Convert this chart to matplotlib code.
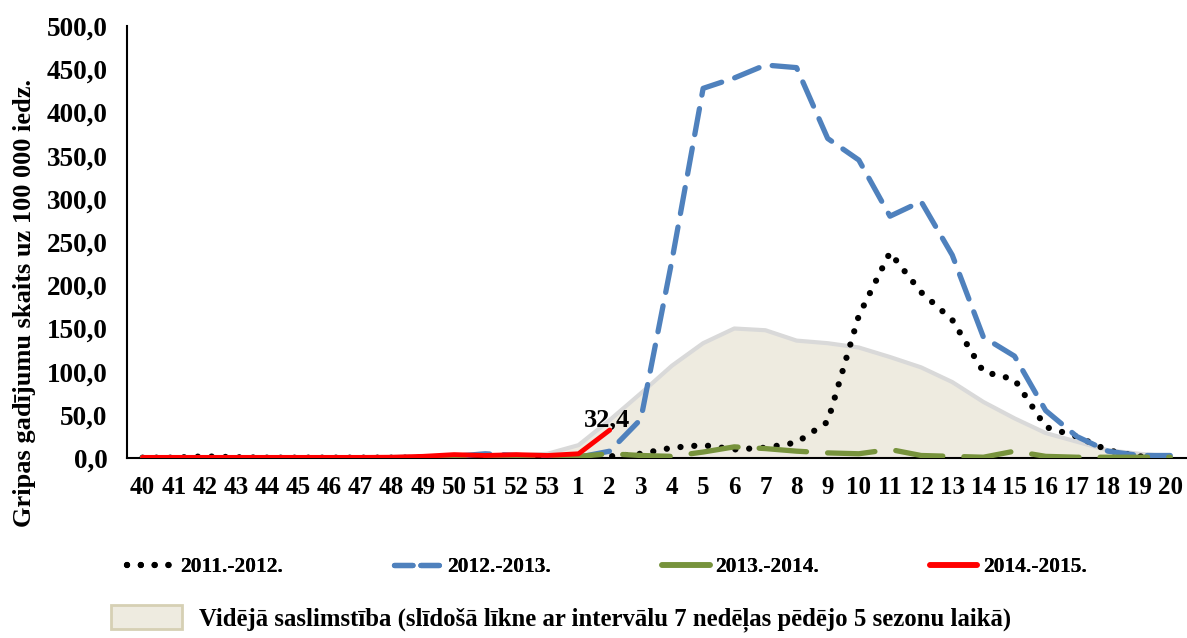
import numpy as np
import matplotlib.pyplot as plt
from matplotlib.patches import Patch
from matplotlib.lines import Line2D

plt.rcParams['font.family'] = ['Liberation Serif', 'DejaVu Serif']
plt.rcParams['font.weight'] = 'bold'

# weeks of the season
weeks = [str(w) for w in range(40, 54)] + [str(w) for w in range(1, 21)]

# 2011.-2012.
s2011 = [0.5, 0.5, 2, 1, 0.5, 0.5, 0.5, 0.5, 0.5, 0.5, 0.5, 0.5, 0.5, 0.5,
         0.5, 2, 5, 12, 15, 10, 12, 18, 42, 165, 238, 192, 160, 100, 91, 36, 25, 9, 2, 0.5]
# 2012.-2013.
s2012 = [0.5, 0.5, 0.5, 0.5, 0.5, 0.5, 0.5, 0.5, 0.5, 1, 2, 5, 3, 2,
         1, 8, 45, 229, 428, 440, 455, 452, 370, 345, 280, 297, 235, 140, 118, 55, 25, 8, 3, 3]
# 2013.-2014.
s2013 = [0.5, 0.5, 0.5, 0.5, 0.5, 0.5, 0.5, 0.5, 0.5, 1, 2, 2, 2, 2,
         2, 5, 3, 2, 7, 13, 11, 8, 6, 5, 10, 3, 2, 1, 8, 2, 1, 1, 1, 1]
# 2014.-2015. (only up to week 2)
s2014 = [0.8, 0.8, 0.8, 0.8, 0.8, 0.8, 0.8, 0.8, 1, 2, 4, 3, 4, 3, 5, 32.4]
# average (moving curve)
avg = [1, 1, 1, 1, 1, 1, 1, 1, 1, 1.5, 2, 2, 3, 5,
       15, 44, 75, 107, 133, 150, 148, 136, 133, 128, 117, 105, 88, 65, 46, 29, 19, 9, 5, 2]

x = np.arange(len(weeks))
x14 = np.arange(len(s2014))

dotted = (0, (0.01, 2.2))
fig = plt.figure(figsize=(11.87, 6.38), dpi=100)
ax = fig.add_axes([0.107, 0.282, 0.892, 0.677])

ax.fill_between(x, avg, color='#EEEBE0', zorder=1)
ax.plot(x, avg, color='#D9D9D9', lw=3, zorder=2)

ax.plot(x, s2011, color='black', lw=4.5, linestyle=dotted,
        dash_capstyle='round', zorder=3)
ax.plot(x, s2012, color='#4F81BD', lw=3.8, linestyle=(0, (5, 2.6)),
        dash_capstyle='round', zorder=4)
ax.plot(x, s2013, color='#77933C', lw=3.8, linestyle=(0, (9, 4)),
        dash_capstyle='round', zorder=4)
ax.plot(x14, s2014, color='#FF0000', lw=3.5, solid_capstyle='round', zorder=5)
ax.annotate('32,4', (x14[-1], s2014[-1]), xytext=(-2, -1), textcoords='offset points',
            ha='center', va='bottom', fontsize=19, fontweight='bold')

ax.set_xlim(-0.5, len(weeks) - 0.5)
ax.set_ylim(0, 500)
ax.set_xticks(x)
ax.set_xticklabels(weeks)
ax.set_yticks(np.arange(0, 501, 50))
ax.set_yticklabels([f'{v:.1f}'.replace('.', ',') for v in np.arange(0, 501, 50)])
ax.tick_params(axis='both', length=0)
ax.tick_params(axis='x', pad=13, labelsize=18)
ax.tick_params(axis='y', pad=14, labelsize=19.5)
for sp in ['top', 'right']:
    ax.spines[sp].set_visible(False)
for sp in ['left', 'bottom']:
    ax.spines[sp].set_linewidth(1.5)
ax.set_ylabel('Gripas gadījumu skaits uz 100 000 iedz.', fontsize=19, fontweight='bold')
ax.yaxis.set_label_coords(-0.086, 0.359)

handles = [
    Line2D([], [], color='black', lw=4.5, linestyle=dotted, dash_capstyle='round'),
    Line2D([], [], color='#4F81BD', lw=3.8, linestyle=(0, (3.5, 1.5)), dash_capstyle='round'),
    Line2D([], [], color='#77933C', lw=4, solid_capstyle='round'),
    Line2D([], [], color='#FF0000', lw=4, solid_capstyle='round'),
]
labels = ['2011.-2012.', '2012.-2013.', '2013.-2014.', '2014.-2015.']
leg1 = fig.legend(handles, labels, loc='center left', bbox_to_anchor=(0.1, 0.111),
                  ncol=4, frameon=False, fontsize=15.5, handlelength=2.2,
                  handletextpad=0.25, columnspacing=5.17, borderaxespad=0)
fig.add_artist(leg1)
fig.legend([Patch(facecolor='#EEEBE0', edgecolor='#D6D0B4', lw=2)],
           ['Vidējā saslimstība (slīdošā līkne ar intervālu 7 nedēļas pēdējo 5 sezonu laikā)'],
           loc='center left', bbox_to_anchor=(0.085, 0.031), frameon=False, fontsize=17.8,
           handlelength=2.9, handleheight=1.1, handletextpad=0.65, borderaxespad=0)

fig.savefig('out.png', dpi=100)
